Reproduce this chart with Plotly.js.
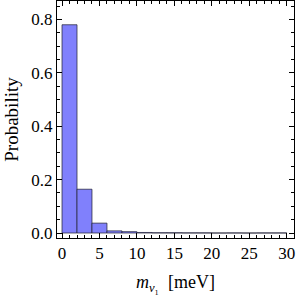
<!DOCTYPE html>
<html>
<head>
<meta charset="utf-8">
<script src="https://cdn.plot.ly/plotly-3.0.1.min.js"></script>
<style>html,body{margin:0;padding:0;background:#fff;}#chart{width:300px;height:295px;}</style>
</head>
<body>
<div id="chart"></div>
<script>
// Histogram of m_nu1 (bin width 2 meV)
const binCenters = [1, 3, 5, 7, 9, 11, 13, 15, 17, 19, 21, 23, 25, 27, 29];
const probabilities = [0.780, 0.164, 0.037, 0.008, 0.005, 0.002, 0.001, 0.001, 0.0005, 0.0005, 0, 0.0003, 0, 0.0003, 0.0003];
const binWidth = 2;
const xTickVals = [0, 5, 10, 15, 20, 25, 30];
const yTickVals = [0.0, 0.2, 0.4, 0.6, 0.8];

const serif = "Liberation Serif, Times New Roman, serif";

const trace = {
  type: 'bar',
  x: binCenters,
  y: probabilities,
  width: binCenters.map(() => binWidth),
  marker: {color: 'rgb(128,128,252)', line: {color: 'rgba(40,40,60,0.75)', width: 1}},
  hoverinfo: 'skip'
};

const axisCommon = {
  showline: true, linecolor: 'black', linewidth: 1, mirror: 'ticks',
  ticks: 'inside', ticklen: 5, tickwidth: 1, tickcolor: 'black',
  showgrid: false, zeroline: false,
  tickfont: {family: serif, size: 17, color: 'black'}
};

const layout = {
  width: 300, height: 295,
  margin: {l: 57, r: 6, t: 1, b: 57},
  paper_bgcolor: 'white', plot_bgcolor: 'white',
  showlegend: false, bargap: 0,
  xaxis: Object.assign({}, axisCommon, {
    range: [-0.67, 30.97],
    tickmode: 'array', tickvals: xTickVals, ticktext: xTickVals.map(String),
    minor: {dtick: 1, tick0: 0, ticks: 'inside', ticklen: 3, tickcolor: 'black', showgrid: false},
    title: {text: '<i>m</i><sub><i>ν</i>\u2081</sub>  [meV]', font: {family: serif, size: 18, color: 'black'}, standoff: 22}
  }),
  yaxis: Object.assign({}, axisCommon, {
    range: [-0.0187, 0.869],
    tickmode: 'array', tickvals: yTickVals, ticktext: yTickVals.map(v => v.toFixed(1)),
    minor: {dtick: 0.05, tick0: 0, ticks: 'inside', ticklen: 3, tickcolor: 'black', showgrid: false},
    title: {text: 'Probability', font: {family: serif, size: 19, color: 'black'}, standoff: 7}
  })
};

Plotly.newPlot('chart', [trace], layout, {displayModeBar: false, staticPlot: true});
</script>
</body>
</html>
